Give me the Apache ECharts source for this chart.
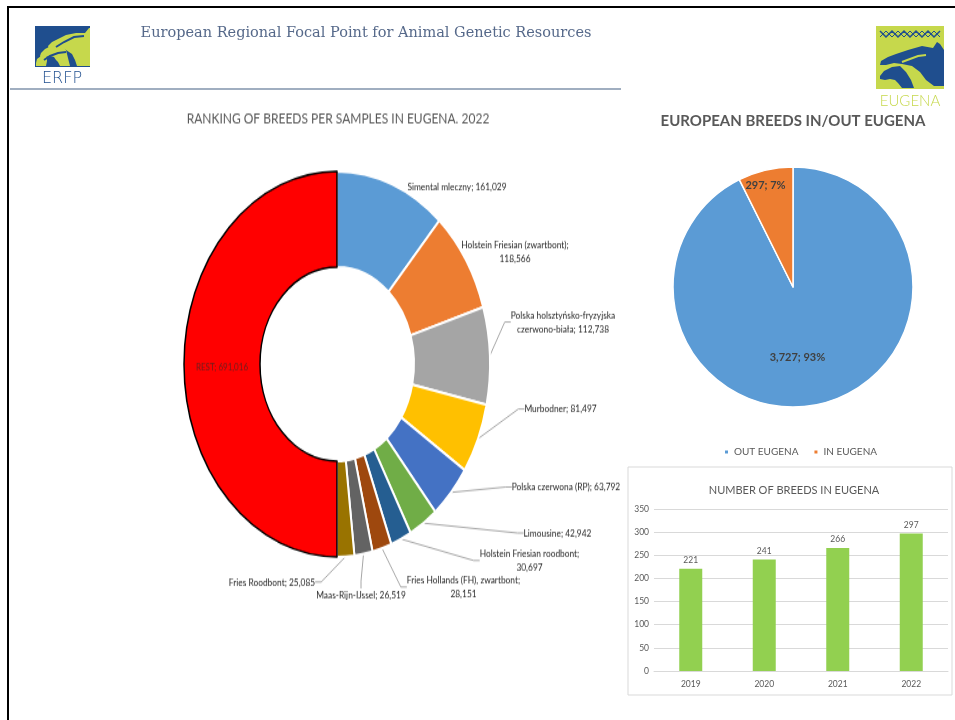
<!DOCTYPE html>
<html><head><meta charset="utf-8">
<script src="https://cdn.jsdelivr.net/npm/echarts@6/dist/echarts.min.js"></script>
<style>
html,body{margin:0;padding:0;background:#fff;width:955px;height:720px;overflow:hidden;}
#donut{position:absolute;left:0;top:0;width:955px;height:572px;transform:scaleY(1.26);transform-origin:0 0;}
#main{position:absolute;left:0;top:0;width:955px;height:720px;}
</style></head><body>
<div id="donut"></div>
<div id="main"></div>
<script>
// ---------- data ----------
const breedNames = ['Simental mleczny', 'Holstein Friesian (zwartbont)', 'Polska holsztyńsko-fryzyjska czerwono-biała', 'Murbodner', 'Polska czerwona (RP)', 'Limousine', 'Holstein Friesian roodbont', 'Fries Hollands (FH), zwartbont', 'Maas-Rijn-IJssel', 'Fries Roodbont', 'REST'];
const breedSamples = [161029, 118566, 112738, 81497, 63792, 42942, 30697, 28151, 26519, 25085, 691016];
const eugenaNames = ['OUT EUGENA', 'IN EUGENA'];
const eugenaBreeds = [3727, 297];
const years = ['2019', '2020', '2021', '2022'];
const breedsInEugena = [221, 241, 266, 297];
const yTickMin = 0, yTickMax = 350, yTickStep = 50;

// ---------- styles ----------
const breedColors = ['#5B9BD5', '#ED7D31', '#A5A5A5', '#FFC000', '#4472C4', '#70AD47', '#255E91', '#9E480E', '#636363', '#997300', '#FF0000'];
const eugenaColors = ['#5B9BD5', '#ED7D31'];
const K = 1.26; // vertical stretch of the donut panel
const FONT = 'Lato, "Open Sans", sans-serif';
const fmt = v => v.toLocaleString('en-US');
function wrapLabel(t, n) {
  const words = t.split(' '); const lines = []; let cur = '';
  for (const w of words) { const c = cur ? cur + ' ' + w : w; if (c.length > n && cur) { lines.push(cur); cur = w; } else cur = c; }
  if (cur) lines.push(cur); return lines.join('\n');
}
// label anchor spots (screen coordinates) for the donut labels
const donutLabelSpots = [[457, 187], [515, 251.5], [563, 322], [560.5, 409], [566, 487], [557.5, 533], [529.5, 560.5], [463.5, 587], [361, 595.5], [272, 582], [222, 367]];

const donut = echarts.init(document.getElementById('donut'), null, {renderer: 'canvas'});
donut.setOption({
  backgroundColor: 'transparent',
  animation: false,
  graphic: [{
    type: 'text', style: {
      text: 'RANKING OF BREEDS PER SAMPLES IN EUGENA. 2022', x: 338, y: 118 / K,
      align: 'center', verticalAlign: 'middle', fill: '#595959', font: '12px ' + FONT
    }
  }],
  series: [{
    type: 'pie',
    center: [337, 364 / K],
    radius: [77, 153],
    startAngle: 90,
    clockwise: true,
    avoidLabelOverlap: false,
    label: {
      show: true, position: 'outside', color: '#262626', fontFamily: FONT, fontSize: 8.4, lineHeight: 11,
      formatter: p => wrapLabel(p.name + '; ' + fmt(p.value), 31)
    },
    labelLine: { show: true, length: 6, length2: 6, lineStyle: { color: '#a6a6a6', width: 1 } },
    labelLayout: function (p) {
      const s = donutLabelSpots[p.dataIndex];
      if (!s) return {};
      return { x: s[0], y: s[1] / K, align: 'center', verticalAlign: 'middle' };
    },
    data: breedNames.map((n, i) => {
      const last = i === breedNames.length - 1;
      return {
        name: n, value: breedSamples[i],
        itemStyle: { color: breedColors[i], borderColor: last ? '#000' : '#fff', borderWidth: last ? 1.5 : 2 },
        label: last ? { position: 'inside', color: '#6b1f1f', fontSize: 8 } : undefined,
        labelLine: (last || i < 2) ? { show: false } : undefined
      };
    })
  }]
});

const main = echarts.init(document.getElementById('main'), null, {renderer: 'canvas'});
const BLUE = '#1f4e8e', LIME = '#c6d84c';
main.setOption({
  backgroundColor: 'transparent',
  animation: false,
  graphic: [
    // slide frame
    { type: 'polyline', shape: { points: [[8, 720], [8, 7], [955, 7]] }, style: { stroke: '#000', lineWidth: 2, fill: null } },
    // header text + rule
    { type: 'text', style: { text: 'European Regional Focal Point for Animal Genetic Resources', x: 366, y: 33, align: 'center', verticalAlign: 'middle', fill: '#56698a', font: '14.5px "DejaVu Serif", serif' } },
    { type: 'line', shape: { x1: 10, y1: 89, x2: 621, y2: 89 }, style: { stroke: '#8193ab', lineWidth: 1.5 } },
    // ERFP logo
    { type: 'rect', shape: { x: 35, y: 26, width: 55, height: 41 }, style: { fill: BLUE } },
    { type: 'polygon', shape: { points: [[89,28],[85,33],[76,33],[66,35],[58,39],[52,42],[48,46],[49,49],[55,48],[61,47],[66,50],[72,54],[75,60],[77,66],[90,66],[90,28]] }, style: { fill: LIME } },
    { type: 'polygon', shape: { points: [[61,45],[53,45],[45,49],[41,53],[40,56],[41,58],[45,57],[50,56],[54,57],[56,60],[58,62],[60,66],[70,66],[68,58],[66,50]] }, style: { fill: LIME } },
    { type: 'polygon', shape: { points: [[45,54],[41,56],[37,59],[36,63],[36,66],[46,66],[47,61],[47,58]] }, style: { fill: LIME } },
    { type: 'polyline', shape: { points: [[84,36],[74,37],[64,42],[56,47]] }, style: { stroke: BLUE, lineWidth: 2, fill: null } },
    { type: 'polyline', shape: { points: [[66,52],[58,53],[50,56],[44,60]] }, style: { stroke: BLUE, lineWidth: 2, fill: null } },
    { type: 'text', style: { text: 'ERFP', x: 62, y: 79, align: 'center', verticalAlign: 'middle', fill: BLUE, font: '300 16px "DejaVu Sans", sans-serif' } },
    // EUGENA logo
    { type: 'rect', shape: { x: 876, y: 26, width: 68, height: 63 }, style: { fill: LIME } },
    { type: 'polyline', shape: { points: [[880, 31], [886, 37], [892, 31], [898, 37], [904, 31], [910, 37], [916, 31], [922, 37], [928, 31], [934, 37], [940, 31]] }, style: { stroke: BLUE, lineWidth: 1.5, fill: null } },
    { type: 'polyline', shape: { points: [[880, 37], [886, 31], [892, 37], [898, 31], [904, 37], [910, 31], [916, 37], [922, 31], [928, 37], [934, 31], [940, 37]] }, style: { stroke: BLUE, lineWidth: 1, fill: null } },
    { type: 'polygon', shape: { points: [[937,42],[933,48],[922,46],[908,50],[896,54],[888,57],[881,61],[880,65],[886,65],[894,63],[902,64],[912,66],[920,72],[926,80],[934,86],[944,86],[944,50],[940,44]] }, style: { fill: BLUE } },
    { type: 'polygon', shape: { points: [[900,66],[892,67],[884,71],[880,76],[880,79],[885,80],[890,79],[895,80],[898,83],[902,88],[914,88],[911,80],[906,72]] }, style: { fill: BLUE } },
    { type: 'polyline', shape: { points: [[926,55],[918,56],[910,59],[902,62]] }, style: { stroke: LIME, lineWidth: 2, fill: null } },
    { type: 'text', style: { text: 'EUGENA', x: 910, y: 101, align: 'center', verticalAlign: 'middle', fill: LIME, font: '300 15px Lato, sans-serif' } },
    // right titles
    { type: 'text', style: { text: 'EUROPEAN BREEDS IN/OUT EUGENA', x: 793, y: 121, align: 'center', verticalAlign: 'middle', fill: '#595959', font: 'bold 15px ' + FONT } },
    // bar chart frame + title
    { type: 'rect', shape: { x: 628, y: 467, width: 324, height: 228 }, style: { fill: null, stroke: '#d9d9d9', lineWidth: 1 } },
    { type: 'text', style: { text: 'NUMBER OF BREEDS IN EUGENA', x: 794, y: 490, align: 'center', verticalAlign: 'middle', fill: '#595959', font: '11px ' + FONT } }
  ],
  legend: {
    data: eugenaNames, left: 723, top: 447, padding: 0, icon: 'rect', itemWidth: 5, itemHeight: 5, itemGap: 14,
    textStyle: { color: '#595959', fontSize: 10, fontFamily: FONT }
  },
  grid: { left: 654, right: 7, top: 509, bottom: 49, containLabel: false },
  xAxis: {
    type: 'category', data: years,
    axisLine: { lineStyle: { color: '#d9d9d9' } }, axisTick: { show: false },
    axisLabel: { color: '#595959', fontSize: 8.5, fontFamily: FONT, margin: 9 }
  },
  yAxis: {
    type: 'value', min: yTickMin, max: yTickMax, interval: yTickStep,
    axisLine: { show: false }, axisTick: { show: false },
    splitLine: { lineStyle: { color: '#d9d9d9' } },
    axisLabel: { color: '#595959', fontSize: 8.5, fontFamily: FONT, margin: 5 }
  },
  series: [
    {
      type: 'pie', center: [793, 287], radius: [0, 120], startAngle: 90, clockwise: true, percentPrecision: 0,
      data: eugenaNames.map((n, i) => ({ name: n, value: eugenaBreeds[i], itemStyle: { color: eugenaColors[i], borderColor: '#fff', borderWidth: 1.5 } })),
      label: { show: true, position: 'inside', color: '#404040', fontWeight: 'bold', fontSize: 11, fontFamily: FONT, formatter: p => fmt(p.value) + '; ' + p.percent + '%' },
      labelLine: { show: false },
      labelLayout: p => p.dataIndex === 1 ? { dx: -13, dy: -40 } : { dx: -10, dy: 9 }
    },
    {
      type: 'bar', data: breedsInEugena, barWidth: 23,
      itemStyle: { color: '#92D050' },
      label: { show: true, position: 'top', color: '#595959', fontSize: 8.5, fontFamily: FONT, distance: 4 }
    }
  ]
});
</script>
</body></html>
